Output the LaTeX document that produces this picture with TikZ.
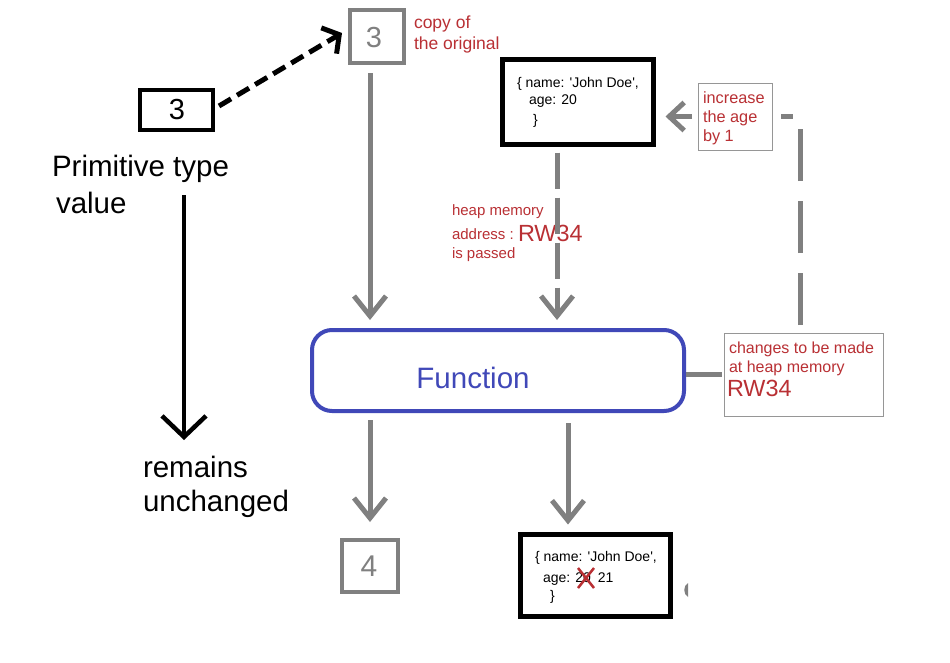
\documentclass[tikz,border=0pt]{standalone}
\usepackage{fontspec}
\setmainfont{Liberation Sans}
\usetikzlibrary{arrows.meta}
\definecolor{gr}{RGB}{128,128,128}
\definecolor{rd}{RGB}{185,48,52}
\definecolor{bl}{RGB}{64,72,184}
\definecolor{thin}{RGB}{150,150,150}
\newcommand{\fsz}[1]{\fontsize{#1}{#1}\selectfont}
\newcommand{\sq}{\textquotesingle}
\begin{document}
\begin{tikzpicture}[x=1pt,y=-1pt,
  box/.style={draw,line width=4pt,inner sep=0pt,outer sep=0pt},
  objbox/.style={draw=black,line width=5pt,inner sep=0pt,outer sep=0pt},
  note/.style={draw=thin,line width=1pt,inner sep=0pt,outer sep=0pt},
  txt/.style={anchor=base west,inner sep=0pt,outer sep=0pt},
  redtxt/.style={txt,text=rd},
  barb/.style={-{Straight Barb[length=20pt,width=32pt]}},
  garrow/.style={draw=gr,line width=5pt,barb},
  gdash/.style={draw=gr,line width=5pt,dash pattern=on 36pt off 9pt}
]
\useasboundingbox[fill=white] (0,0) rectangle (950,662);

% boxes
\node[box,draw=black,minimum width=73pt,minimum height=40pt] (b3) at (176.5,110) {};
\node at (177,110) {\fsz{29}3};
\node[box,draw=gr,minimum width=54pt,minimum height=53pt] (g3) at (377,36.5) {};
\node[text=gr] at (374,37.5) {\fsz{29}3};
\node[box,draw=gr,minimum width=56pt,minimum height=52pt] (g4) at (370,566) {};
\node[text=gr] at (369,566) {\fsz{30}4};

\node[objbox,minimum width=151pt,minimum height=85pt] (o1) at (578,102) {};
\node[txt] at (517,87) {\fsz{14}\{ name: \sq John Doe\sq,};
\node[txt] at (529,104) {\fsz{14}age: 20};
\node[txt] at (533,124) {\fsz{14}\}};

\node[objbox,minimum width=150pt,minimum height=82pt] (o2) at (595.5,575.5) {};
\node[txt] at (535,561) {\fsz{14}\{ name: \sq John Doe\sq,};
\node[txt] (age2) at (543,582) {\fsz{14}age: 20\hspace{3pt} 21};
\draw[rd,line width=2.5pt] ([xshift=35pt,yshift=14pt]age2.base west) -- ([xshift=51pt,yshift=-6pt]age2.base west)
  ([xshift=51pt,yshift=14pt]age2.base west) -- ([xshift=35pt,yshift=-6pt]age2.base west);
\node[txt] at (550,600) {\fsz{14}\}};

\node[draw=bl,line width=4pt,rounded corners=20pt,inner sep=0pt,outer sep=0pt,
      minimum width=372pt,minimum height=81pt] (fn) at (498,370.5) {};
\node[text=bl] at (473,378) {\fsz{29.5}Function};

\node[note,minimum width=74pt,minimum height=67pt] (inc) at (735,116.5) {};
\node[redtxt] at (703,103) {\fsz{16.3}increase};
\node[redtxt] at (703,122) {\fsz{16.3}the age};
\node[redtxt] at (703,141) {\fsz{16.3}by 1};

\node[note,minimum width=159pt,minimum height=83pt] (chg) at (803.5,374.5) {};
\node[redtxt] at (729,353) {\fsz{16}changes to be made};
\node[redtxt] at (729,372) {\fsz{16}at heap memory};
\node[redtxt] at (727,396) {\fsz{23.4}RW34};

% texts
\node[txt] (prim) at (52,176) {\fsz{29.5}Primitive type};
\node[txt] at (56,213) {\fsz{29.5}value};
\node[txt] (rem) at (143,477) {\fsz{29.5}remains};
\node[txt] at (143,511) {\fsz{29.5}unchanged};

\node[redtxt] at (414,28) {\fsz{17.5}copy of};
\node[redtxt] at (414,49) {\fsz{17.5}the original};

\node[redtxt] at (452,215) {\fsz{15}heap memory};
\node[redtxt] at (452,239) {\fsz{15}address :};
\node[redtxt] at (518,241) {\fsz{23.4}RW34};
\node[redtxt] at (452,258) {\fsz{15}is passed};

% connectors
\draw[black,line width=5pt,dash pattern=on 14pt off 7pt,
      -{Straight Barb[length=12pt,width=30pt]}]
  ([xshift=6pt,yshift=4pt]b3.east) -- ([xshift=-8pt,yshift=3.5pt]g3.west);

\coordinate (va) at (184,195);
\coordinate (vb) at (184,440);
\draw[black,line width=4.5pt,-{Straight Barb[length=21pt,width=44pt]}] (va) -- (vb);

\draw[garrow,shorten <=10pt,shorten >=10pt]
  ([xshift=-7pt]g3.south) -- ([xshift=-7pt]g3.south |- fn.north);
\draw[garrow,gdash,shorten <=8pt,shorten >=10pt]
  ([xshift=-21pt]o1.south) -- ([xshift=-21pt]o1.south |- fn.north);

\draw[garrow,shorten <=9pt,shorten >=18pt]
  (fn.south -| g4.north) -- (g4.north);
\draw[garrow,shorten <=12pt,shorten >=10pt]
  ([xshift=-27.5pt]o2.north |- fn.south) -- ([xshift=-27.5pt]o2.north);

\draw[draw=gr,line width=5pt] ([xshift=2pt]fn.east |- chg.west) -- ([xshift=-2pt]chg.west);

\draw[draw=gr,line width=5pt,dash pattern=on 52pt off 20pt,dash phase=64pt,shorten >=9pt]
  ([xshift=-3.5pt]chg.north) |- (inc.east);

\draw[draw=gr,line width=5pt,-{Straight Barb[length=15pt,width=28pt]},shorten <=6pt,shorten >=12pt]
  (inc.west) -- (o1.east |- inc.west);

% small grey mark
\fill[gr] (688,583) .. controls (683,586) and (683,594) .. (688,597) -- cycle;
\end{tikzpicture}
\end{document}
